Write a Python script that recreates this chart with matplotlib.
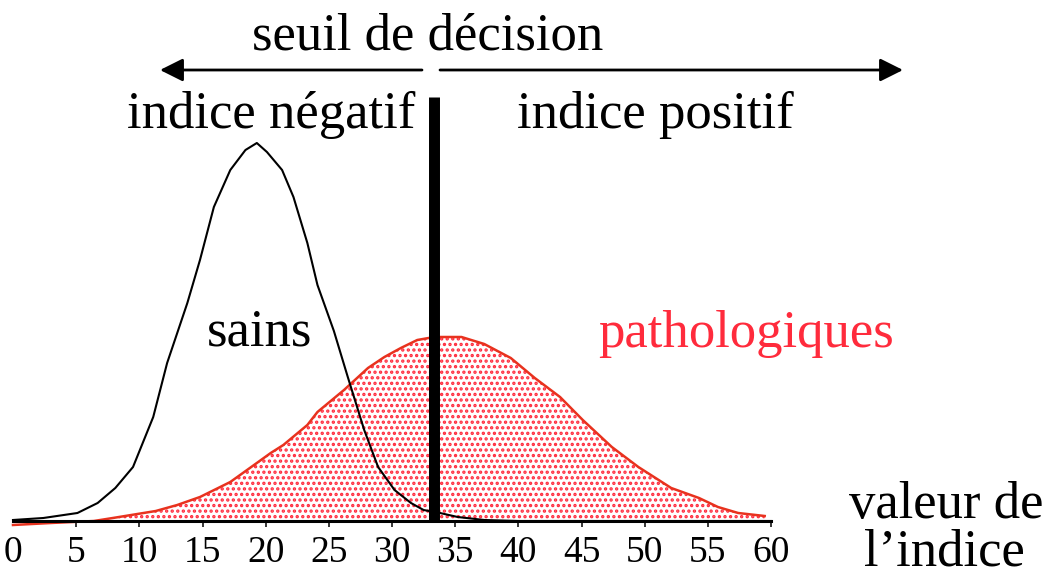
import matplotlib
matplotlib.use("Agg")
import matplotlib.pyplot as plt
from matplotlib.patches import FancyArrowPatch

# ---- data (arbitrary frequency units) ----
sains_x = [0, 2.4, 5.1, 6.7, 8.1, 9.5, 11.1, 12.2, 13.8, 14.8, 15.9, 17.2, 18.4, 19.3,
           20.1, 21.3, 22.2, 23.3, 24.1, 25.4, 26.5, 27.8, 28.9, 30.2, 31.5, 32.5,
           33.8, 35.2, 37.3, 40, 60]
sains_y = [0.1, 0.3, 0.8, 1.8, 3.3, 5.4, 10.4, 15.8, 21.8, 26.1, 31.4, 35.1, 37.1, 37.8,
           36.9, 35.1, 32.4, 27.8, 23.6, 19.0, 14.4, 9.1, 5.4, 3.1, 1.8, 1.1,
           0.8, 0.4, 0.1, 0, 0]

patho_x = [0, 3, 6.4, 7.9, 11.3, 13.0, 14.8, 17.2, 19.3, 20.4, 21.4, 23.3, 24.1, 26.2,
           28.1, 29.4, 30.7, 32.0, 32.9, 33.7, 35.5, 37.3, 39.4, 41.3, 43.3, 45.1,
           47.4, 49.5, 52.1, 54.3, 55.8, 57.4, 59.5]
patho_y = [-0.4, -0.2, 0.0, 0.3, 1.0, 1.6, 2.4, 3.9, 5.8, 6.8, 7.6, 9.6, 10.9, 13.1,
           15.3, 16.4, 17.3, 18.1, 18.3, 18.4, 18.4, 17.7, 16.3, 14.3, 12.4, 10.1,
           7.4, 5.4, 3.3, 2.3, 1.4, 0.8, 0.5]

seuil = 33.3
ticks = list(range(0, 61, 5))
tick_labels = [str(t) for t in ticks]

title = "seuil de décision"
label_neg = "indice négatif"
label_pos = "indice positif"
label_sains = "sains"
label_patho = "pathologiques"
xlabel_lines = ["valeur de", "l\u2019indice"]

# ---- figure ----
W, H = 1051, 577
plt.rcParams['font.family'] = ['Liberation Serif', 'DejaVu Serif']
plt.rcParams['hatch.linewidth'] = 1.6
fig = plt.figure(figsize=(W / 100, H / 100), dpi=100)

def px(x, y):
    return (x / W, 1 - y / H)

ax_left, ax_right, ax_bottom, ax_top = 13, 771, 521, 97
ax = fig.add_axes([ax_left / W, (H - ax_bottom) / H,
                   (ax_right - ax_left) / W, (ax_bottom - ax_top) / H])
ax.set_xlim(0, 60)
ax.set_ylim(0, 42.4)

red_line = '#E8321E'
red_dot = '#FF2A3C'
red_text = '#FF2B3C'

ax.fill_between(patho_x, 0, patho_y, facecolor='none', edgecolor=red_dot,
                hatch='...', linewidth=0, zorder=1)
ax.plot(patho_x, patho_y, color=red_line, lw=1.8, zorder=3, clip_on=False)
ax.plot(sains_x, sains_y, color='black', lw=1.5, zorder=4, clip_on=False)
ax.axvline(seuil, ymin=0, ymax=1, color='black', lw=7.9, solid_capstyle='butt',
           zorder=5, clip_on=False)

for s in ['top', 'left', 'right']:
    ax.spines[s].set_visible(False)
ax.spines['bottom'].set_linewidth(2.2)
ax.spines['bottom'].set_zorder(4.5)
ax.set_yticks([])
ax.set_xticks(ticks)
ax.set_xticklabels(tick_labels, fontsize=27)
ax.tick_params(axis='x', direction='out', length=4.3, width=1.1, pad=6)
ax.xaxis.get_major_ticks()[0].tick1line.set_visible(False)
ax.patch.set_visible(False)

# ---- text ----
fs = 38
fig.text(*px(428, 50), title, fontsize=fs, ha='center', va='baseline')
fig.text(*px(271, 128), label_neg, fontsize=fs, ha='center', va='baseline')
fig.text(*px(655, 128), label_pos, fontsize=fs, ha='center', va='baseline')
fig.text(*px(260, 345), label_sains, fontsize=fs, ha='center', va='baseline')
fig.text(*px(746, 347), label_patho, fontsize=fs, ha='center', va='baseline',
         color=red_text)
fig.text(*px(946, 518), xlabel_lines[0], fontsize=fs, ha='center', va='baseline')
fig.text(*px(944, 565), xlabel_lines[1], fontsize=fs, ha='center', va='baseline')

# ---- arrows ----
for a, b in [((422, 70), (160, 70)), ((440, 70), (903, 70))]:
    arr = FancyArrowPatch(px(*a), px(*b), transform=fig.transFigure,
                          arrowstyle='-|>,head_length=14,head_width=7',
                          mutation_scale=1, lw=2.0, color='black',
                          shrinkA=0, shrinkB=0)
    fig.patches.append(arr)

fig.savefig('out.png', dpi=100)
